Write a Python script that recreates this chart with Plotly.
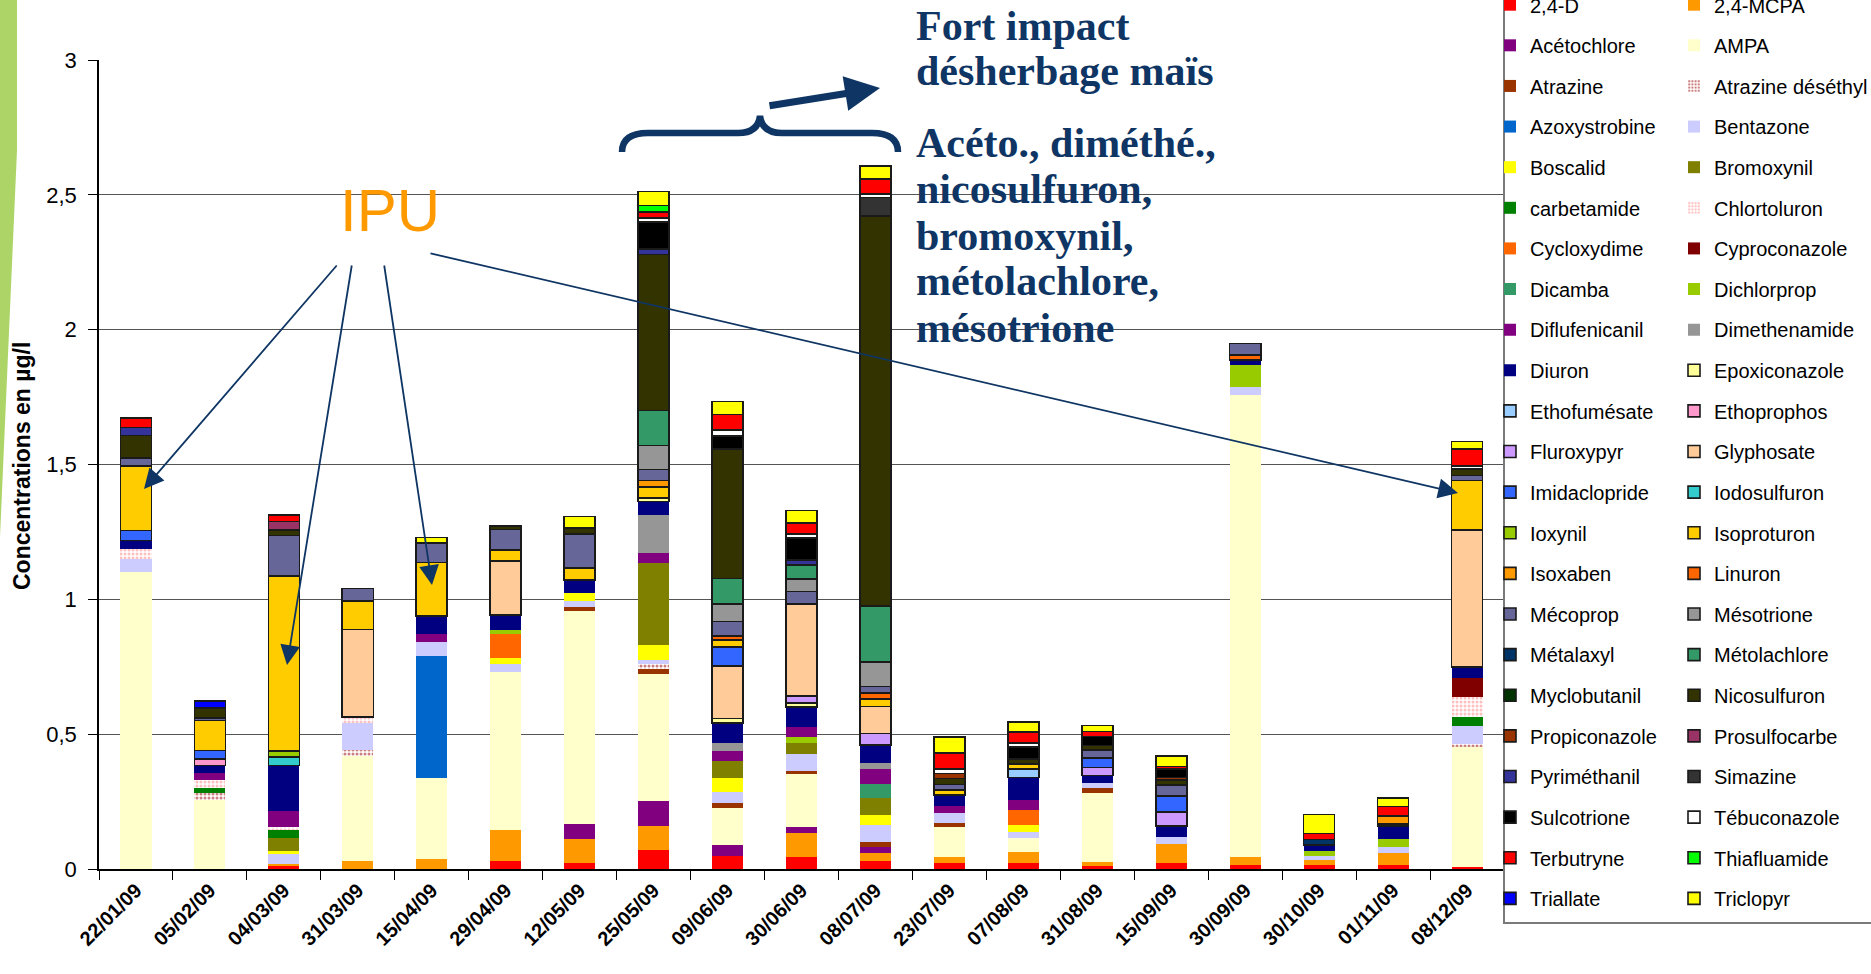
import plotly.graph_objects as go

# ---------------------------------------------------------------- data
dates = ["22/01/09", "05/02/09", "04/03/09", "31/03/09", "15/04/09", "29/04/09", "12/05/09",
         "25/05/09", "09/06/09", "30/06/09", "08/07/09", "23/07/09", "07/08/09", "31/08/09",
         "15/09/09", "30/09/09", "30/10/09", "01/11/09", "08/12/09"]

# concentrations in µg/l, one value per sampling date (0 = not detected)
d_24d          = [0, 0, .010, 0, 0, .031, .024, .072, .050, .043, .031, .021, .021, .011, .021, .016, .013, .013, .009]
d_24mcpa       = [0, 0, .009, .028, .038, .112, .086, .089, 0, .089, .028, .023, .041, .014, .073, .027, .019, .047, 0]
acetochlore    = [0, 0, 0, 0, 0, 0, .056, .093, .040, .022, .021, 0, 0, 0, 0, 0, 0, 0, 0]
ampa           = [1.10, .255, 0, .390, .300, .589, .792, .470, .136, .200, 0, .113, .053, .255, 0, 1.714, 0, 0, .443]
atrazine       = [0, 0, 0, 0, 0, 0, .015, .019, .017, .011, .021, .015, 0, .019, 0, 0, 0, 0, 0]
atrazine_des   = [0, .025, 0, .025, 0, 0, 0, .019, 0, 0, 0, 0, 0, 0, 0, 0, 0, 0, .012]
azoxystrobine  = [0, 0, 0, 0, .452, 0, 0, 0, 0, 0, 0, 0, 0, 0, 0, 0, 0, 0, 0]
bentazone      = [.051, 0, .035, .099, .052, .028, .022, .012, .041, .061, .062, .037, .023, .019, .023, .029, .017, .023, .066]
boscalid       = [0, 0, .012, 0, 0, .022, .029, .057, .053, 0, .038, 0, .026, 0, 0, 0, 0, 0, 0]
bromoxynil     = [0, 0, .050, 0, 0, 0, 0, .305, .062, .043, .062, 0, 0, 0, 0, 0, 0, 0, 0]
carbetamide    = [0, .022, .028, 0, 0, 0, 0, 0, 0, 0, 0, 0, 0, 0, 0, 0, 0, 0, .033]
chlortoluron   = [.037, .027, .011, .022, 0, 0, 0, 0, 0, 0, 0, 0, 0, 0, 0, 0, 0, 0, .073]
cycloxydime    = [0, 0, 0, 0, 0, .089, 0, 0, 0, 0, 0, 0, .053, 0, 0, 0, 0, 0, 0]
cyproconazole  = [0, 0, 0, 0, 0, 0, 0, 0, 0, 0, 0, 0, 0, 0, 0, 0, 0, 0, .072]
dicamba        = [0, 0, 0, 0, 0, 0, 0, 0, 0, 0, .052, 0, 0, 0, 0, 0, 0, 0, 0]
dichlorprop    = [0, 0, 0, 0, 0, .015, 0, 0, 0, .019, 0, 0, 0, 0, 0, .082, .016, .029, 0]
diflufenicanil = [0, .028, .059, 0, .030, 0, 0, .037, .040, .037, .055, .026, .038, 0, 0, 0, 0, 0, 0]
dimethenamide  = [0, 0, 0, 0, 0, 0, 0, .138, .027, 0, .024, 0, 0, 0, 0, 0, 0, 0, 0]
diuron         = [.030, .027, .170, 0, .066, .056, .047, .052, .076, .076, .066, .040, .085, .029, .043, .019, .024, .048, .040]
epoxiconazole  = [0, 0, 0, 0, 0, 0, 0, .012, .016, .014, 0, 0, 0, 0, 0, 0, 0, 0, 0]
ethofumesate   = [0, 0, 0, 0, 0, 0, 0, 0, 0, 0, 0, 0, .031, 0, 0, 0, 0, 0, 0]
ethoprophos    = [0, .025, 0, 0, 0, 0, 0, 0, 0, 0, 0, 0, 0, 0, 0, 0, 0, 0, 0]
fluroxypyr     = [0, 0, 0, 0, 0, 0, 0, 0, 0, .027, .042, 0, 0, .030, .051, 0, 0, 0, 0]
glyphosate     = [0, 0, 0, .324, 0, .200, 0, 0, .195, .340, .100, 0, 0, 0, 0, 0, 0, 0, .510]
imidaclopride  = [.037, .031, 0, 0, 0, 0, 0, 0, .071, 0, 0, 0, 0, .035, .060, 0, 0, 0, 0]
iodosulfuron   = [0, 0, .031, 0, 0, 0, 0, 0, 0, 0, 0, 0, 0, 0, 0, 0, 0, 0, 0]
ioxynil        = [0, 0, .022, 0, 0, 0, 0, 0, 0, 0, 0, 0, 0, 0, 0, 0, 0, 0, 0]
isoproturon    = [.240, .110, .650, .105, .198, .040, .046, .041, .025, 0, .029, .019, .018, 0, 0, 0, 0, .008, .182]
isoxaben       = [0, 0, 0, 0, 0, 0, 0, .025, 0, 0, 0, 0, 0, 0, 0, 0, 0, .028, 0]
linuron        = [0, 0, 0, 0, 0, 0, 0, 0, .016, 0, .022, 0, 0, 0, 0, .019, 0, 0, 0]
mecoprop       = [.030, .010, .149, .047, .072, .077, .126, .041, .053, .047, .024, .019, 0, .030, .040, .043, 0, 0, .019]
mesotrione     = [0, 0, 0, 0, 0, 0, 0, .088, .064, .047, .090, 0, 0, 0, 0, 0, 0, 0, 0]
metalaxyl      = [0, 0, 0, 0, 0, 0, 0, 0, 0, 0, 0, 0, 0, 0, 0, 0, .020, 0, 0]
metolachlore   = [0, 0, 0, 0, 0, 0, 0, .131, .095, .052, .208, 0, 0, 0, 0, 0, 0, 0, 0]
myclobutanil   = [0, 0, 0, 0, 0, 0, 0, 0, 0, 0, 0, 0, 0, 0, 0, 0, 0, 0, 0]
nicosulfuron   = [.082, .037, .022, 0, 0, .012, .022, .578, .480, 0, 1.446, .022, .019, .016, .019, 0, 0, 0, .024]
propiconazole  = [0, 0, 0, 0, 0, 0, 0, 0, 0, 0, 0, .019, 0, 0, .010, 0, 0, 0, 0]
prosulfocarbe  = [0, 0, .030, 0, 0, 0, 0, 0, 0, 0, 0, 0, 0, 0, 0, 0, 0, 0, 0]
pyrimethanil   = [.030, 0, 0, 0, 0, 0, 0, .021, 0, .017, 0, 0, 0, 0, 0, 0, 0, 0, 0]
simazine       = [0, 0, 0, 0, 0, 0, 0, 0, 0, 0, .069, 0, 0, 0, 0, 0, 0, 0, 0]
sulcotrione    = [0, 0, 0, 0, 0, 0, 0, .099, .049, .082, 0, 0, .044, .034, .031, 0, 0, 0, 0]
tebuconazole   = [0, 0, 0, 0, 0, 0, 0, .016, .021, .015, .014, .016, .016, 0, 0, 0, 0, 0, .012]
terbutryne     = [.035, 0, .024, 0, 0, 0, 0, .022, .059, .040, .055, .061, .041, .018, .009, 0, .023, .036, .062]
thiafluamide   = [0, 0, 0, 0, 0, 0, 0, .023, 0, 0, 0, 0, 0, 0, 0, 0, 0, 0, 0]
triallate      = [0, .025, 0, 0, 0, 0, 0, 0, 0, 0, 0, 0, 0, 0, 0, 0, 0, 0, 0]
triclopyr      = [0, 0, 0, 0, .022, 0, .042, .053, .047, .047, .047, .058, .036, .022, .040, 0, .070, .031, .029]

# (legend label, fill colour, values) in stacking order
series = [
    ("2,4-D", "#FF0000", d_24d),
    ("2,4-MCPA", "#FF9900", d_24mcpa),
    ("Acétochlore", "#800080", acetochlore),
    ("AMPA", "#FFFFCC", ampa),
    ("Atrazine", "#993300", atrazine),
    ("Atrazine déséthyl", "dots:#990000", atrazine_des),
    ("Azoxystrobine", "#0066CC", azoxystrobine),
    ("Bentazone", "#CCCCFF", bentazone),
    ("Boscalid", "#FFFF00", boscalid),
    ("Bromoxynil", "#808000", bromoxynil),
    ("carbetamide", "#008000", carbetamide),
    ("Chlortoluron", "dots:#FF8080", chlortoluron),
    ("Cycloxydime", "#FF6600", cycloxydime),
    ("Cyproconazole", "#800000", cyproconazole),
    ("Dicamba", "#339966", dicamba),
    ("Dichlorprop", "#99CC00", dichlorprop),
    ("Diflufenicanil", "#800080", diflufenicanil),
    ("Dimethenamide", "#969696", dimethenamide),
    ("Diuron", "#000080", diuron),
    ("Epoxiconazole", "#FFFF99", epoxiconazole),
    ("Ethofumésate", "#99CCFF", ethofumesate),
    ("Ethoprophos", "#FF99CC", ethoprophos),
    ("Fluroxypyr", "#CC99FF", fluroxypyr),
    ("Glyphosate", "#FFCC99", glyphosate),
    ("Imidaclopride", "#3366FF", imidaclopride),
    ("Iodosulfuron", "#33CCCC", iodosulfuron),
    ("Ioxynil", "#99CC00", ioxynil),
    ("Isoproturon", "#FFCC00", isoproturon),
    ("Isoxaben", "#FF9900", isoxaben),
    ("Linuron", "#FF6600", linuron),
    ("Mécoprop", "#666699", mecoprop),
    ("Mésotrione", "#969696", mesotrione),
    ("Métalaxyl", "#003366", metalaxyl),
    ("Métolachlore", "#339966", metolachlore),
    ("Myclobutanil", "#003300", myclobutanil),
    ("Nicosulfuron", "#333300", nicosulfuron),
    ("Propiconazole", "#993300", propiconazole),
    ("Prosulfocarbe", "#993366", prosulfocarbe),
    ("Pyriméthanil", "#333399", pyrimethanil),
    ("Simazine", "#333333", simazine),
    ("Sulcotrione", "#000000", sulcotrione),
    ("Tébuconazole", "#FFFFFF", tebuconazole),
    ("Terbutryne", "#FF0000", terbutryne),
    ("Thiafluamide", "#00FF00", thiafluamide),
    ("Triallate", "#0000FF", triallate),
    ("Triclopyr", "#FFFF00", triclopyr),
]
FIRST_OUTLINED = 19  # from Epoxiconazole on, segments carry a black outline

# ---------------------------------------------------------------- geometry
W, H = 1871, 974
PL, PR, PT, PB = 99, 1504, 60, 869   # plot area in pixels


def px(x):
    return (x - PL) / (PR - PL)


def py(y):
    return (PB - y) / (PB - PT)


SANS = "Liberation Sans, Arial, sans-serif"
SERIF = "Liberation Serif, Times New Roman, serif"
NAVY = "#0E3563"

ROW0, ROWSTEP = 4.7, 40.62          # legend row centres (pixels)
LEG_FONT = 20
ITEM_H = LEG_FONT * 1.3 + 3
GAP = ROWSTEP - ITEM_H

fig = go.Figure()
for i, (name, col, vals) in enumerate(series):
    row, colnum = divmod(i, 2)
    legend_id = ["legend", "legend2", "legend3", "legend4"][colnum * 2 + (1 if row >= 12 else 0)]
    if col.startswith("dots:"):
        marker = dict(color="white",
                      pattern=dict(shape=".", fgcolor=col[5:], bgcolor="white",
                                   size=4, solidity=0.45, fillmode="overlay"),
                      line=dict(width=0))
    else:
        marker = dict(color=col,
                      line=dict(width=1.6 if i >= FIRST_OUTLINED else 0, color="#1a1a1a"))
    fig.add_trace(go.Bar(
        x=dates, y=[v if v else None for v in vals], name=name,
        marker=marker, legend=legend_id, legendgroup=name,
    ))

leg_common = dict(bgcolor="rgba(0,0,0,0)", borderwidth=0, xanchor="left", yanchor="top",
                  font=dict(family=SANS, size=LEG_FONT, color="#000"),
                  tracegroupgap=GAP, traceorder="grouped")
top_a = ROW0 - (ITEM_H / 2 + 5)
top_b = ROW0 + 12 * ROWSTEP - (ITEM_H / 2 + 5)
XL, XR = 1490, 1674

fig.update_layout(
    width=W, height=H,
    margin=dict(l=PL, r=W - PR, t=PT, b=H - PB, autoexpand=False),
    paper_bgcolor="white", plot_bgcolor="white",
    barmode="stack", bargap=0.58,
    separators=", ",
    showlegend=True,
    legend=dict(x=px(XL), y=py(top_a), **leg_common),
    legend2=dict(x=px(XL), y=py(top_b), **leg_common),
    legend3=dict(x=px(XR), y=py(top_a), **leg_common),
    legend4=dict(x=px(XR), y=py(top_b), **leg_common),
    xaxis=dict(type="category", tickson="boundaries", ticks="outside", ticklen=9,
               tickcolor="#000", showline=True, linecolor="#000", linewidth=1.5,
               showgrid=False, tickangle=-45,
               tickfont=dict(family=SANS, size=20, color="#000", weight="bold")),
    yaxis=dict(range=[0, 3], dtick=0.5, showgrid=True, gridcolor="#555", gridwidth=1,
               zeroline=False, ticks="outside", ticklen=9, tickcolor="#000",
               showline=True, linecolor="#000", linewidth=1.5, ticklabelstandoff=7,
               tickfont=dict(family=SANS, size=22, color="#000")),
)

shapes = []
# green band along the left edge
shapes.append(dict(type="path", xref="paper", yref="paper", layer="above",
                   path=f"M {px(0)},{py(0)} L {px(17)},{py(0)} L {px(17)},{py(150)} L {px(0)},{py(537)} Z",
                   fillcolor="#ADD466", line=dict(width=0)))
# legend frame
shapes.append(dict(type="rect", xref="paper", yref="paper", layer="above",
                   x0=px(1504), x1=px(1890), y0=py(923), y1=py(-10),
                   line=dict(color="#7a7a7a", width=2), fillcolor="rgba(0,0,0,0)"))
# curly brace over the maize weeding samples
brace = (f"M {px(622)},{py(152)} Q {px(622)},{py(133)} {px(648)},{py(133)} "
         f"L {px(738)},{py(133)} Q {px(758)},{py(133)} {px(760)},{py(116)} "
         f"Q {px(762)},{py(133)} {px(782)},{py(133)} "
         f"L {px(872)},{py(133)} Q {px(898)},{py(133)} {px(898)},{py(152)}")
shapes.append(dict(type="path", xref="paper", yref="paper", layer="above",
                   path=brace, line=dict(color=NAVY, width=6.5)))
fig.update_layout(shapes=shapes)

ann = []
# y-axis title
ann.append(dict(text="<b>Concentrations en µg/l</b>", textangle=-90, xref="paper", yref="paper",
                x=px(22), y=py(466), showarrow=False, xanchor="center", yanchor="middle",
                font=dict(family=SANS, size=23, color="#000")))
# IPU label and arrows
ann.append(dict(text="IPU", xref="paper", yref="paper", x=px(390), y=py(210),
                showarrow=False, xanchor="center", yanchor="middle",
                font=dict(family=SANS, size=60, color="#FF9900")))
for (tx, ty), (hx, hy) in [((338, 264), (144, 489)), ((352, 264), (287, 665)),
                           ((384, 264), (432, 585)), ((429, 253), (1458, 493))]:
    ann.append(dict(text="", xref="paper", yref="paper", x=px(hx), y=py(hy),
                    ax=tx - hx, ay=ty - hy, showarrow=True, arrowhead=2,
                    arrowsize=2.2, arrowwidth=1.8, arrowcolor=NAVY, standoff=0))
# thick arrow towards the comment
ann.append(dict(text="", xref="paper", yref="paper", x=px(880), y=py(88),
                ax=768 - 880, ay=106 - 88, showarrow=True, arrowhead=2,
                arrowsize=1.0, arrowwidth=7, arrowcolor=NAVY, standoff=0))
# comment lines
lines = [("Fort impact", 26), ("désherbage maïs", 71), ("Acéto., diméthé.,", 143),
         ("nicosulfuron,", 189), ("bromoxynil,", 236), ("métolachlore,", 281),
         ("mésotrione", 328)]
for txt, yc in lines:
    ann.append(dict(text=f"<b>{txt}</b>", xref="paper", yref="paper", x=px(914), y=py(yc),
                    showarrow=False, xanchor="left", yanchor="middle",
                    font=dict(family=SERIF, size=42, color=NAVY)))
fig.update_layout(annotations=ann)

fig.write_html("out.html")
